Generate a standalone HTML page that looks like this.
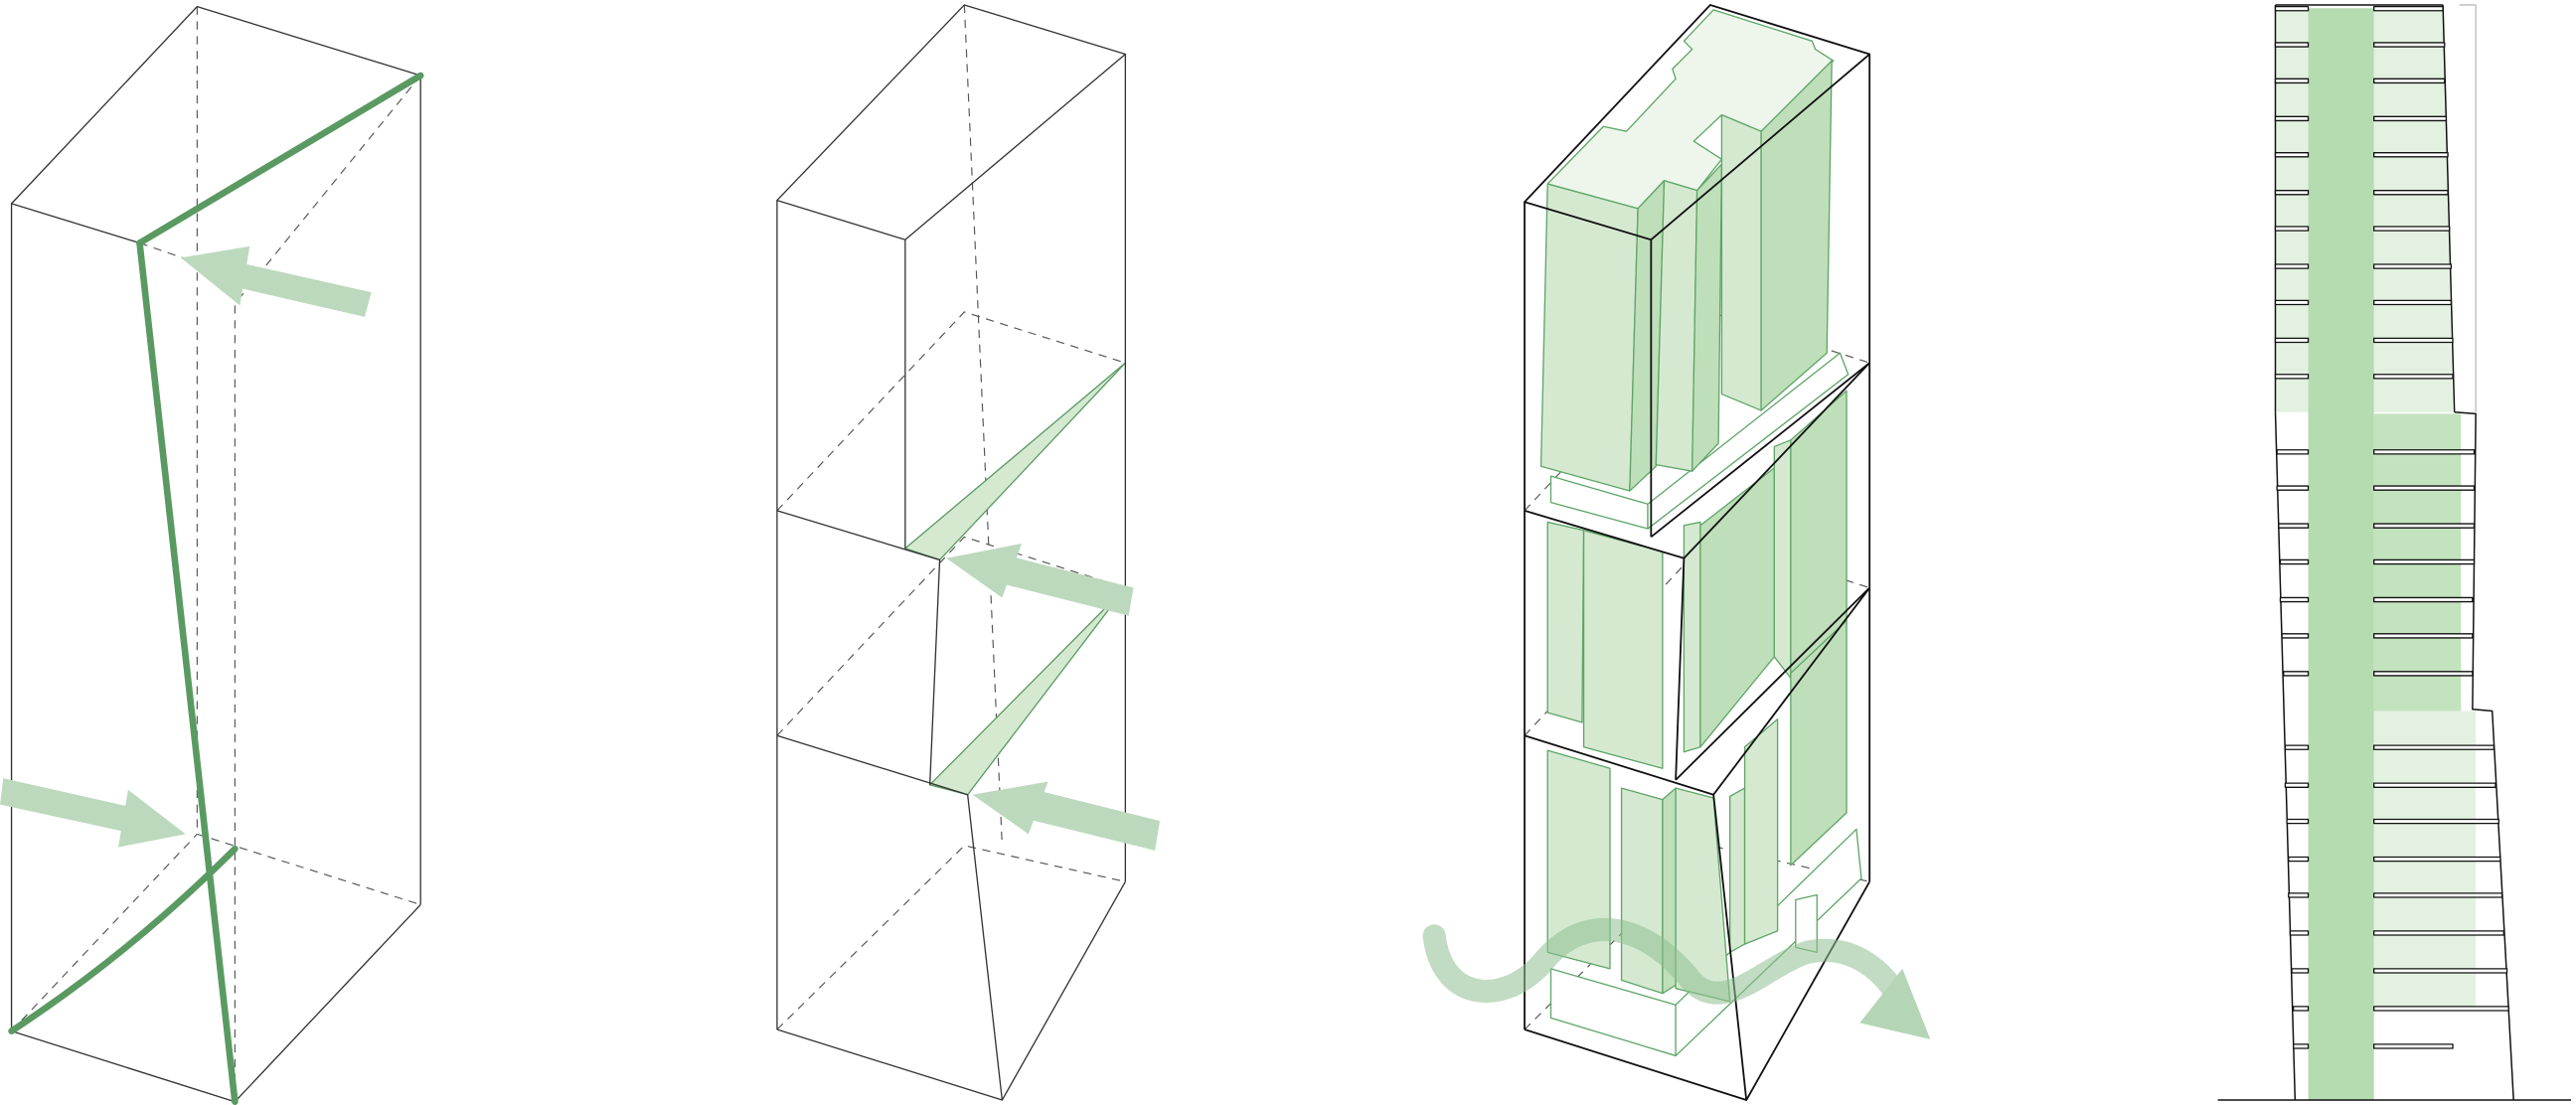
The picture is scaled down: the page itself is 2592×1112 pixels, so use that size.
<!DOCTYPE html>
<html><head><meta charset="utf-8"><style>html,body{margin:0;padding:0;background:#fff}svg{display:block}</style></head>
<body>
<svg width="2592" height="1112" viewBox="0 0 1568 673" preserveAspectRatio="none" xmlns="http://www.w3.org/2000/svg">
<g fill="none" stroke="#333" stroke-width="0.8" stroke-linejoin="round">
<!-- FIG 1 -->
<g stroke-dasharray="5,4" stroke="#555" stroke-width="0.7">
<line x1="120" y1="4" x2="120" y2="508"/>
<line x1="7" y1="628" x2="120" y2="508"/>
<line x1="120" y1="508" x2="256" y2="551"/>
<line x1="256" y1="46" x2="143" y2="185"/>
<line x1="85" y1="148" x2="143" y2="168"/>
<line x1="143" y1="168" x2="143" y2="671"/>
</g>
<polyline points="85,148 7,124 120,4 256,46"/>
<line x1="7" y1="124" x2="7" y2="628"/>
<line x1="256" y1="46" x2="256" y2="551"/>
<polyline points="7,628 143,671 256,551"/>
<g fill="#bcd9bd" stroke="none">
<polygon points="146,160 226,178 222,193 144,175"/>
<polygon points="110,157 152,150 146,186"/>
<polygon points="2,474 82,492 78,507 0,490"/>
<polygon points="78,481 113,508 72,516"/>
</g>
<g stroke="#5a9a62" stroke-width="4" stroke-linecap="round">
<line x1="85" y1="148" x2="256" y2="46"/>
<line x1="85" y1="148" x2="143" y2="671"/>
<path d="M7,628 Q80,580 143,517"/>
</g>
<!-- FIG 2 -->
<g stroke-dasharray="5,4" stroke="#555" stroke-width="0.7">
<polyline points="473,311 587,190 685,221"/>
<polyline points="473,448 587,327 685,358"/>
<polyline points="473,627 587,515 685,537"/>
<line x1="587" y1="3" x2="610" y2="515"/>
</g>
<g fill="#d5e9d1" stroke="#5a9a62" stroke-width="0.8">
<polygon points="551,334 685,221 572,341"/>
<polygon points="566,478 685,358 589,484"/>
</g>
<polyline points="551,146 473,122 587,3 685,33 551,146"/>
<line x1="473" y1="122" x2="473" y2="627"/>
<line x1="685" y1="33" x2="685" y2="537"/>
<line x1="551" y1="146" x2="551" y2="334"/>
<polyline points="473,311 572,341 566,478"/>
<polyline points="473,448 589,484 610,670"/>
<polyline points="473,627 610,670 685,537"/>
<g fill="#bcd9bd" stroke="none">
<polygon points="608,337 690,358 687,375 604,354"/>
<polygon points="576,340 622,331 610,364"/>
<polygon points="626,480 706,500 703,518 622,498"/>
<polygon points="592,484 638,476 626,508"/>
</g>
<!-- FIG 3 -->
<g stroke-dasharray="5,4" stroke="#555" stroke-width="0.7">
<polyline points="928,311 1041,190 1138,221"/>
<polyline points="928,448 1041,327 1138,358"/>
<polyline points="928,627 1041,515 1138,537"/>
</g>
<g stroke="#5fa567" stroke-width="0.8">
<polygon fill="#eef6ec" points="942,112 976,77 990,80 1020,48 1018,42 1030,30 1025,25 1043,6 1103,25 1105,30 1116,37 1072,80 1048,70 1031,86 1048,97 1033,116 1013,110 997,127"/>
<polygon fill="#fff" points="944,290 1003,307 1003,322 944,306"/>
<polygon fill="#fff" points="1003,307 1120,215 1125,228 1003,322"/>
<polygon fill="#d5e9d1" points="942,112 997,127 992,299 938,284"/>
<polygon fill="#bfdfba" points="997,127 1013,110 1008,284 992,299"/>
<polygon fill="#d5e9d1" points="1013,110 1033,116 1030,287 1008,283"/>
<polygon fill="#bfdfba" points="1033,116 1048,100 1046,270 1030,287"/>
<polygon fill="#d5e9d1" points="1048,70 1072,80 1072,250 1048,240"/>
<polygon fill="#bfdfba" points="1072,80 1115,37 1112,215 1072,250"/>
<polygon fill="#d5e9d1" points="942,318 964,323 963,440 942,434"/>
<polygon fill="#d5e9d1" points="964,323 1012,336 1012,468 964,455"/>
<polygon fill="#d5e9d1" points="1025,320 1035,318 1035,455 1025,458"/>
<polygon fill="#bfdfba" points="1035,320 1080,285 1080,400 1035,455"/>
<polygon fill="#d5e9d1" points="1080,272 1090,268 1090,413 1080,400"/>
<polygon fill="#bfdfba" points="1090,268 1124,238 1124,380 1090,413"/>
<polygon fill="#fff" points="944,590 1020,612 1020,643 944,620"/>
<polygon fill="#fff" points="1020,612 1130,505 1133,535 1020,643"/>
<polygon fill="#d5e9d1" points="942,457 980,468 980,590 942,580"/>
<polygon fill="#d5e9d1" points="987,480 1012,487 1012,605 987,597"/>
<polygon fill="#bfdfba" points="1012,487 1020,480 1020,600 1012,605"/>
<polygon fill="#d5e9d1" points="1020,480 1043,486 1053,610 1020,602"/>
<polygon fill="#d5e9d1" points="1053,485 1062,480 1062,575 1053,580"/>
<polygon fill="#d5e9d1" points="1062,455 1082,438 1082,567 1062,575"/>
<polygon fill="#bfdfba" points="1090,410 1124,378 1124,495 1090,527"/>
<polygon fill="#fff" points="1093,548 1106,545 1106,580 1093,577"/>
</g>
<g stroke="#111" stroke-width="1.1">
<polyline points="1005,146 928,123 1041,3 1138,33 1005,146"/>
<line x1="928" y1="123" x2="928" y2="627"/>
<line x1="1138" y1="33" x2="1138" y2="537"/>
<line x1="1005" y1="146" x2="1005" y2="327"/>
<line x1="1005" y1="327" x2="1138" y2="221"/>
<polyline points="928,311 1025,340 1020,475"/>
<line x1="1025" y1="340" x2="1138" y2="221"/>
<line x1="1020" y1="475" x2="1138" y2="358"/>
<polyline points="928,448 1043,484 1063,670"/>
<line x1="1043" y1="484" x2="1138" y2="358"/>
<polyline points="928,627 1063,670 1138,537"/>
</g>
<path d="M873,570 C878,612 918,612 940,585 C965,555 1002,562 1030,598 C1050,618 1075,588 1100,580 C1128,574 1148,592 1158,612" stroke="#8fbf92" stroke-opacity="0.55" stroke-width="14" stroke-linecap="round"/>
<polygon points="1175,633 1158,590 1132,623" fill="#b5d6b6" stroke="none"/>
<!-- FIG 4 -->
<rect x="1385" y="5" width="20" height="246" fill="#e3f1e1" stroke="none"/>
<polygon points="1445,5 1487,5 1493,251 1445,251" fill="#e3f1e1" stroke="none"/>
<rect x="1445" y="252" width="53" height="181" fill="#c3e2be" stroke="none"/>
<rect x="1445" y="433" width="62" height="182" fill="#e3f1e1" stroke="none"/>
<rect x="1405" y="5" width="40" height="665" fill="#b5dbb0" stroke="none"/>
<line x1="1497" y1="3" x2="1507" y2="3" stroke="#bbb"/>
<line x1="1507" y1="3" x2="1507" y2="251" stroke="#bbb"/>
<g stroke="#111" stroke-width="0.9">
<line x1="1350" y1="670" x2="1565" y2="670"/>
<line x1="1385" y1="3" x2="1487" y2="3"/>
<line x1="1385" y1="3" x2="1385" y2="251"/>
<line x1="1385" y1="251" x2="1397" y2="670"/>
<line x1="1487" y1="3" x2="1494" y2="251"/>
<polyline points="1494,251 1507,252 1505,432 1517,433 1530,670"/>
</g>
<g stroke="#111" stroke-width="0.8" fill="#fff">
<rect x="1385" y="4" width="20" height="2.5"/><rect x="1445" y="4" width="42" height="2.5"/>
<rect x="1385" y="26" width="20" height="2.5"/><rect x="1445" y="26" width="43" height="2.5"/>
<rect x="1385" y="48" width="20" height="2.5"/><rect x="1445" y="48" width="43" height="2.5"/>
<rect x="1385" y="71" width="20" height="2.5"/><rect x="1445" y="71" width="44" height="2.5"/>
<rect x="1385" y="93" width="20" height="2.5"/><rect x="1445" y="93" width="45" height="2.5"/>
<rect x="1385" y="116" width="20" height="2.5"/><rect x="1445" y="116" width="45" height="2.5"/>
<rect x="1385" y="138" width="20" height="2.5"/><rect x="1445" y="138" width="46" height="2.5"/>
<rect x="1385" y="161" width="20" height="2.5"/><rect x="1445" y="161" width="47" height="2.5"/>
<rect x="1385" y="183" width="20" height="2.5"/><rect x="1445" y="183" width="47" height="2.5"/>
<rect x="1385" y="206" width="20" height="2.5"/><rect x="1445" y="206" width="48" height="2.5"/>
<rect x="1385" y="228" width="20" height="2.5"/><rect x="1445" y="228" width="48" height="2.5"/>
<rect x="1386" y="274" width="19" height="2.5"/><rect x="1445" y="274" width="61" height="2.5"/>
<rect x="1386" y="296" width="19" height="2.5"/><rect x="1445" y="296" width="61" height="2.5"/>
<rect x="1387" y="319" width="18" height="2.5"/><rect x="1445" y="319" width="61" height="2.5"/>
<rect x="1388" y="341" width="17" height="2.5"/><rect x="1445" y="341" width="61" height="2.5"/>
<rect x="1388" y="364" width="17" height="2.5"/><rect x="1445" y="364" width="60" height="2.5"/>
<rect x="1389" y="386" width="16" height="2.5"/><rect x="1445" y="386" width="60" height="2.5"/>
<rect x="1390" y="409" width="15" height="2.5"/><rect x="1445" y="409" width="60" height="2.5"/>
<rect x="1391" y="454" width="14" height="2.5"/><rect x="1445" y="454" width="73" height="2.5"/>
<rect x="1391" y="477" width="14" height="2.5"/><rect x="1445" y="477" width="74" height="2.5"/>
<rect x="1392" y="499" width="13" height="2.5"/><rect x="1445" y="499" width="76" height="2.5"/>
<rect x="1393" y="522" width="12" height="2.5"/><rect x="1445" y="522" width="77" height="2.5"/>
<rect x="1393" y="544" width="12" height="2.5"/><rect x="1445" y="544" width="78" height="2.5"/>
<rect x="1394" y="567" width="11" height="2.5"/><rect x="1445" y="567" width="79" height="2.5"/>
<rect x="1395" y="590" width="10" height="2.5"/><rect x="1445" y="590" width="81" height="2.5"/>
<rect x="1396" y="613" width="9" height="2.5"/><rect x="1445" y="613" width="82" height="2.5"/>
<rect x="1396" y="636" width="9" height="2.5"/><rect x="1445" y="636" width="48" height="2.5"/>
</g>
</g>
</svg>
</body></html>
